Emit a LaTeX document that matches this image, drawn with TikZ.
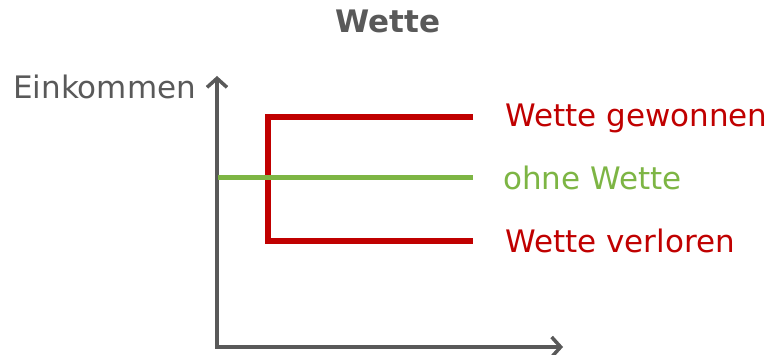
\documentclass[tikz,border=0pt]{standalone}
\usepackage{fontspec}
\setmainfont{DejaVu Sans}
\usetikzlibrary{arrows.meta}
\definecolor{axgray}{HTML}{595959}
\definecolor{betred}{HTML}{C00000}
\definecolor{betgreen}{HTML}{7DB544}
\tikzset{
  axisline/.style={draw=axgray, line width=3.5pt, -{Straight Barb[length=9pt,width=20pt,line width=3.5pt]}},
  redline/.style={draw=betred, line width=5.5pt, line join=miter},
  greenline/.style={draw=betgreen, line width=5pt},
  lbl/.style={anchor=base west, inner sep=0pt, font=\fontsize{31pt}{37pt}\selectfont},
}
\begin{document}
\begin{tikzpicture}[x=1pt,y=-1pt]
\useasboundingbox (0,0) rectangle (772,355);
% title
\node[anchor=base, inner sep=0pt, text=axgray, font=\fontsize{31pt}{37pt}\selectfont\bfseries] (title) at (388,33) {Wette};
% axes
\coordinate (O) at (217,347);
\coordinate (ytip) at (217,76);
\coordinate (xtip) at (563,347);
\draw[axisline, line cap=rect] (O) -- (ytip);
\draw[axisline, line cap=rect] (O) -- (xtip);
\node[lbl, text=axgray] (ylab) at (13,99) {Einkommen};
% bracket
\coordinate (wt) at (473,117);
\coordinate (wb) at (473,241);
\coordinate (corner) at (268,241);
\draw[redline] (wt) -| (corner) -- (wb);
% green
\coordinate (g0) at (218,178);
\coordinate (g1) at (473,178);
\draw[greenline] (g0) -- (g1);
% labels
\node[lbl, text=betred] (lw) at (505,127) {Wette gewonnen};
\node[lbl, text=betgreen] (lo) at (503,190) {ohne Wette};
\node[lbl, text=betred] (lv) at (505,253) {Wette verloren};
\end{tikzpicture}
\end{document}
